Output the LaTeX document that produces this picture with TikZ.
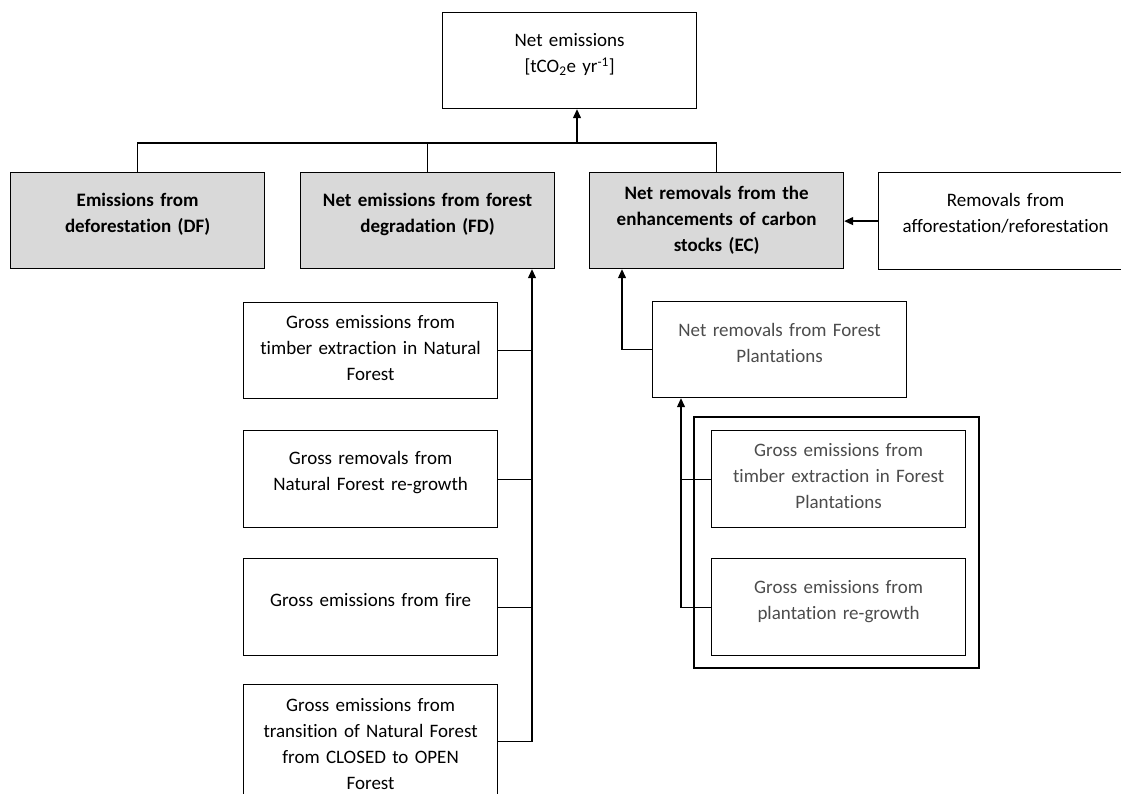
\documentclass[tikz,border=0pt]{standalone}
\usepackage{fontspec}
\setmainfont{Carlito}[Ligatures=NoCommon]
\usetikzlibrary{arrows.meta}

\tikzset{
  box/.style={draw, line width=1.2pt, fill=white, text width=246pt, align=center,
    inner xsep=4pt, inner ysep=0pt, anchor=north west,
    font=\fontsize{19}{26}\selectfont},
  grey/.style={fill=black!15, font=\fontsize{19}{26}\selectfont\bfseries},
  faint/.style={text=black!70},
  lines/.style 2 args={text height=#1pt, text depth=#2pt},
}

\begin{document}
\begin{tikzpicture}[x=1pt, y=-1pt, >={Triangle[length=9pt,width=8pt]}, line width=1.2pt]
    \useasboundingbox (0,0) rectangle (1121,794);
    \clip (0,0) rectangle (1121,794);

    % top level
    \node[box, lines={34}{62}] (top) at (442,12)
      {Net emissions\\{}[tCO\textsubscript{2}e yr\textsuperscript{-1}]};

    % the three components
    \node[box, grey, lines={34}{62}] (df) at (10,172) {Emissions from\\deforestation (DF)};
    \node[box, grey, lines={34}{62}] (fd) at (300,172) {Net emissions from forest\\degradation (FD)};
    \node[box, grey, lines={27}{69}] (ec) at (589,172)
      {Net removals from the\\enhancements of carbon\\stocks (EC)};
    \node[box, lines={34}{63}] (ar) at (878,172) {Removals from\\afforestation/reforestation};

    % forest degradation
    \node[box, lines={26}{70}] (b1) at (243,302)
      {Gross emissions from\\timber extraction in Natural\\Forest};
    \node[box, lines={34}{63}] (b2) at (243,430) {Gross removals from\\Natural Forest re-growth};
    \node[box, lines={48}{49}] (b3) at (243,558) {Gross emissions from fire};
    \node[box, lines={27}{87}] (b4) at (243,684)
      {Gross emissions from\\transition of Natural Forest\\from CLOSED to OPEN\\Forest};

    % plantations
    \node[box, faint, lines={35}{61}] (nrfp) at (652,301) {Net removals from Forest\\Plantations};
    \draw (694,417) rectangle (979,668);
    \node[box, faint, lines={26}{71}] (in1) at (711,430)
      {Gross emissions from\\timber extraction in Forest\\Plantations};
    \node[box, faint, lines={35}{62}] (in2) at (711,558) {Gross emissions from\\plantation re-growth};

    % connectors
    \coordinate (bus) at (577,143);
    \draw (df.north) |- (bus) -| (ec.north);
    \draw (fd.north) -- (fd.north |- bus);
    \draw[->] (bus) -- (bus |- top.south);
    \draw[->] (ar.west) -- (ar.west -| ec.east);

    \coordinate (lsp) at (532,0);
    \draw[->] (b4.east) -| (lsp |- fd.south);
    \foreach \b in {b1,b2,b3}
      \draw (\b.east) -- (\b.east -| lsp);

    \coordinate (rsp) at (622,0);
    \draw[->] (nrfp.west) -| (rsp |- ec.south);
    \coordinate (isp) at (681,0);
    \draw[->] (in2.west) -| (isp |- nrfp.south);
    \draw (in1.west) -- (in1.west -| isp);
\end{tikzpicture}
\end{document}
